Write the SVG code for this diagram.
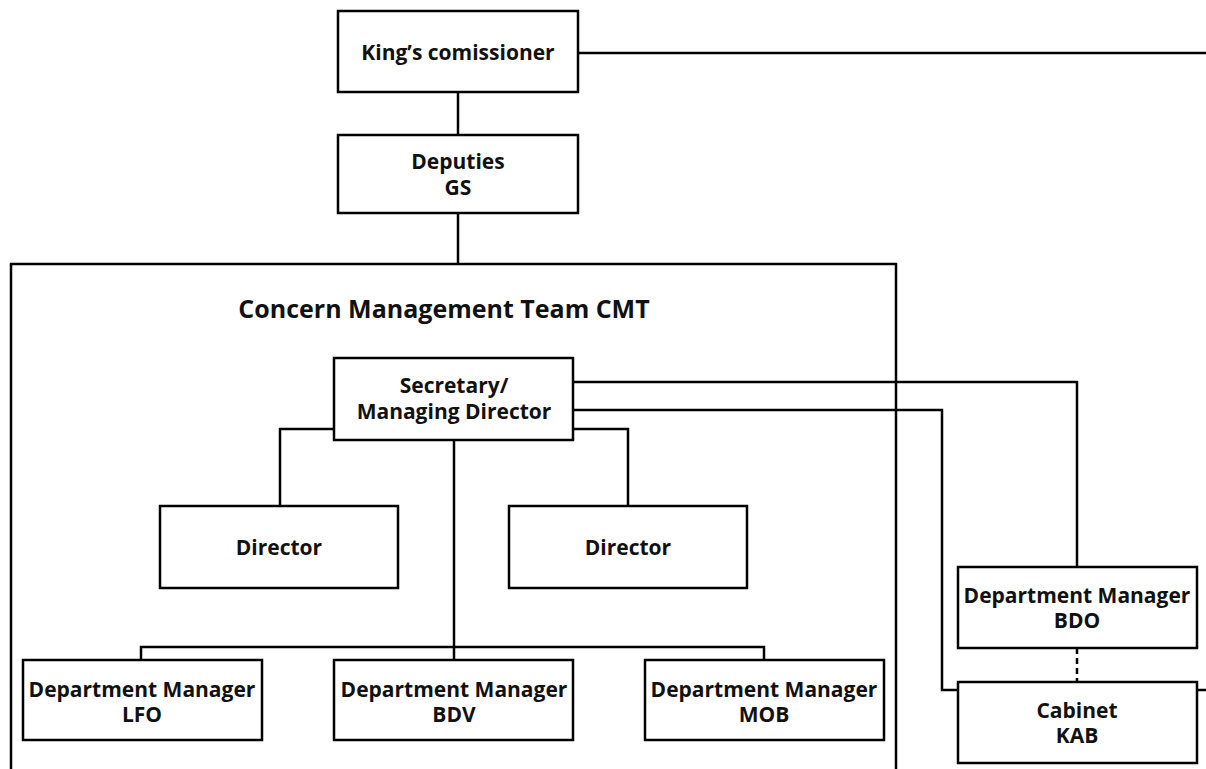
<svg xmlns="http://www.w3.org/2000/svg" width="1206" height="769" viewBox="0 0 1206 769">
<style>
.box{fill:#fff;stroke:#000;stroke-width:2.5}
.ln{fill:none;stroke:#000;stroke-width:2.5}
.dash{stroke-dasharray:6 4}
text{font-family:"Open Sans","Noto Sans","Liberation Sans",sans-serif;font-weight:bold;font-size:21px;fill:#111;text-anchor:middle}
.title{font-size:25px}
</style>
<rect width="1206" height="769" fill="#fff"/>
<g id="cmt">
<rect class="box" x="11" y="264" width="885" height="520"/>
<text class="title" x="444" y="318">Concern Management Team CMT</text>
</g>
<g id="connectors">
<path class="ln" d="M578 53H1206"/>
<path class="ln" d="M458 92V135"/>
<path class="ln" d="M458 213V264"/>
<path class="ln" d="M573 382H1077V567"/>
<path class="ln" d="M573 410H942V690H958"/>
<path class="ln" d="M334 429H280V506"/>
<path class="ln" d="M573 429H628V506"/>
<path class="ln" d="M454 440V660"/>
<path class="ln" d="M141 660V647H764V660"/>
<path class="ln dash" d="M1077 648V682"/>
<path class="ln" d="M1197 690H1206"/>
</g>
<g id="kings"><rect class="box" x="338" y="11" width="240" height="81"/><text x="458" y="60">King’s comissioner</text></g>
<g id="deputies"><rect class="box" x="338" y="135" width="240" height="78"/><text x="458" y="169">Deputies</text><text x="458" y="195">GS</text></g>
<g id="secretary"><rect class="box" x="334" y="358" width="239" height="82"/><text x="454" y="393">Secretary/</text><text x="454" y="419">Managing Director</text></g>
<g id="director1"><rect class="box" x="160" y="506" width="238" height="82"/><text x="279" y="555">Director</text></g>
<g id="director2"><rect class="box" x="509" y="506" width="238" height="82"/><text x="628" y="555">Director</text></g>
<g id="lfo"><rect class="box" x="23" y="660" width="239" height="80"/><text x="142" y="697">Department Manager</text><text x="142" y="722">LFO</text></g>
<g id="bdv"><rect class="box" x="334" y="660" width="239" height="80"/><text x="454" y="697">Department Manager</text><text x="454" y="722">BDV</text></g>
<g id="mob"><rect class="box" x="645" y="660" width="239" height="80"/><text x="764" y="697">Department Manager</text><text x="764" y="722">MOB</text></g>
<g id="bdo"><rect class="box" x="958" y="567" width="239" height="81"/><text x="1077" y="603">Department Manager</text><text x="1077" y="628">BDO</text></g>
<g id="cabinet"><rect class="box" x="958" y="682" width="239" height="81"/><text x="1077" y="718">Cabinet</text><text x="1077" y="743">KAB</text></g>
</svg>
